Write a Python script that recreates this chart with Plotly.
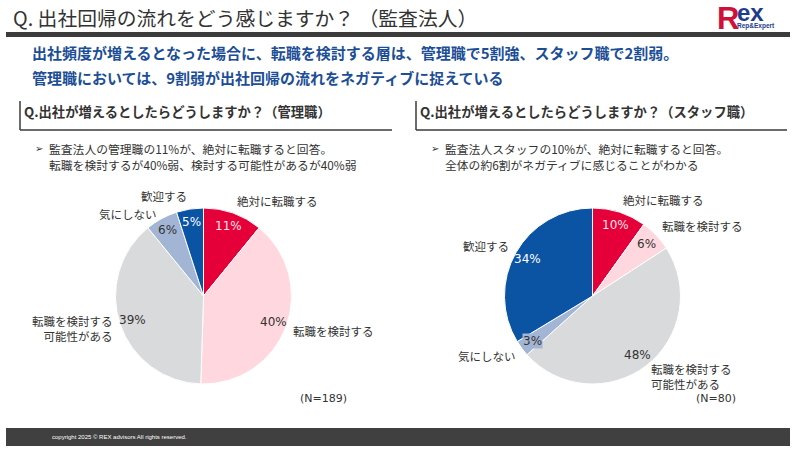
import numpy as np
import plotly.graph_objects as go

# %% data
categories = ["絶対に転職する", "転職を検討する", "転職を検討する<br>可能性がある", "気にしない", "歓迎する"]
manager_share = [11, 40, 39, 6, 5]
staff_share = [10, 6, 48, 3, 34]
n_manager = 189
n_staff = 80

title_text = "Q. 出社回帰の流れをどう感じますか？ （監査法人）"
lead_lines = [
    "出社頻度が増えるとなった場合に、転職を検討する層は、管理職で5割強、スタッフ職で2割弱。",
    "管理職においては、9割弱が出社回帰の流れをネガティブに捉えている",
]
manager_head = "Q.出社が増えるとしたらどうしますか？（管理職）"
staff_head = "Q.出社が増えるとしたらどうしますか？（スタッフ職）"
manager_notes = ["監査法人の管理職の11%が、絶対に転職すると回答。",
                 "転職を検討するが40%弱、検討する可能性があるが40%弱"]
staff_notes = ["監査法人スタッフの10%が、絶対に転職すると回答。",
               "全体の約6割がネガティブに感じることがわかる"]

# %% style
W, H = 800, 450
JP = "Noto Sans CJK JP, sans-serif"
slice_colors = ["#E5003A", "#FFD7DE", "#D9DADC", "#A3B5D5", "#0B53A3"]
pct_colors = ["#FDE3E8", "#333333", "#333333", "#333333", "#FFFFFF"]
TXT = "#333333"
BLUE = "#1C4E96"
R = 88
LABEL_GAP = 18


def X(px):
    return px / W


def Y(py):
    return 1 - py / H


def txt(x, y, s, size=12, color=TXT, anchor="left", family=JP, **kw):
    return dict(x=X(x), y=Y(y), xref="paper", yref="paper", text=s, showarrow=False,
                xanchor=anchor, yanchor="middle", font=dict(size=size, color=color, family=family), **kw)


def pie_block(values, cx, cy):
    """pie trace + percent / category annotations for one panel"""
    trace = go.Pie(
        values=values, labels=categories, sort=False, direction="clockwise",
        marker=dict(colors=slice_colors, line=dict(color="white", width=1)),
        textinfo="none", hoverinfo="label+percent", showlegend=False,
        domain=dict(x=[X(cx - R), X(cx + R)], y=[Y(cy + R), Y(cy - R)]),
    )
    v = np.array(values, dtype=float)
    ends = np.cumsum(v) / v.sum() * 2 * np.pi
    mids = ends - v / v.sum() * np.pi
    notes = []
    labels = []
    for i, a in enumerate(mids):
        s, c = np.sin(a), np.cos(a)
        extra = dict(bgcolor=slice_colors[i]) if values[i] < 4 else {}
        notes.append(txt(cx + 0.85 * R * s, cy - 0.85 * R * c, f"{values[i]}%", size=12,
                         color=pct_colors[i], anchor="center", family="DejaVu Sans, sans-serif",
                         borderpad=0, **extra))
        labels.append(["left" if s > 0 else "right", cx + 1.06 * R * s, cy - 1.15 * R * c, i])

    # push apart labels on the same side that would collide
    for side in ("left", "right"):
        grp = sorted([l for l in labels if l[0] == side], key=lambda l: l[2])
        for a, b in zip(grp, grp[1:]):
            if b[2] - a[2] < LABEL_GAP:
                b[2] = a[2] + LABEL_GAP
    for anc, x, y, i in labels:
        notes.append(txt(x, y, categories[i], size=11.5, anchor=anc, align=anc))
    return trace, notes


fig = go.Figure()
ann = []

t1, a1 = pie_block(manager_share, 203.5, 296)
t2, a2 = pie_block(staff_share, 592.5, 296)
fig.add_trace(t1)
fig.add_trace(t2)
ann += a1 + a2

# header
ann.append(txt(11, 17, title_text, size=19.8, color="#333333"))
ann.append(txt(30, 53, "<b>" + lead_lines[0] + "</b>", size=15, color=BLUE))
ann.append(txt(30, 77, "<b>" + lead_lines[1] + "</b>", size=15, color=BLUE))

# logo
ann.append(txt(715, 18, "<b>R</b>", size=31, color="#CF1038", family="Liberation Sans, sans-serif"))
ann.append(txt(735, 13, "<b>ex</b>", size=24, color="#1E3C8C", family="Liberation Sans, sans-serif"))
ann.append(txt(756, 26, "<b>Rep&Expert</b>", size=6.5, color="#1E3C8C", anchor="center",
               family="Liberation Sans, sans-serif"))

# panel headings and notes
for x0, head, notes in [(20, manager_head, manager_notes), (416, staff_head, staff_notes)]:
    ann.append(txt(x0 + 2, 111, "<b>" + head + "</b>", size=13.3))
    ann.append(txt(x0 + 13, 148, "➢", size=10, family="DejaVu Sans, sans-serif"))
    ann.append(txt(x0 + 27, 148, notes[0], size=11.8))
    ann.append(txt(x0 + 27, 164, notes[1], size=11.8))

ann.append(txt(323, 398, f"(N={n_manager})", size=11, anchor="center", family="DejaVu Sans, sans-serif"))
ann.append(txt(716, 398, f"(N={n_staff})", size=11, anchor="center", family="DejaVu Sans, sans-serif"))
ann.append(txt(50, 437, "copyright 2025 © REX advisors All rights reserved.", size=6, color="#FFFFFF",
               family="Liberation Sans Narrow, Liberation Sans, sans-serif"))

line = dict(color="#3A3A3A", width=1.5)
shapes = [
    dict(type="rect", xref="paper", yref="paper", x0=X(6), x1=X(790), y0=Y(37), y1=Y(32),
         fillcolor="#3C3C3C", line=dict(width=0)),
    dict(type="rect", xref="paper", yref="paper", x0=X(6), x1=X(790), y0=Y(446), y1=Y(428),
         fillcolor="#404040", line=dict(width=0)),
]
for x0, x1 in [(20, 392), (416, 787)]:
    shapes.append(dict(type="line", xref="paper", yref="paper", x0=X(x0), x1=X(x0), y0=Y(101), y1=Y(130), line=line))
    shapes.append(dict(type="line", xref="paper", yref="paper", x0=X(x0), x1=X(x1), y0=Y(130), y1=Y(130), line=line))

fig.update_layout(
    width=W, height=H, margin=dict(l=0, r=0, t=0, b=0),
    paper_bgcolor="white", plot_bgcolor="white",
    annotations=ann, shapes=shapes, font=dict(family=JP, color=TXT),
)

fig.write_html("out.html", config={"displayModeBar": False},
               post_script="document.body.style.margin='0';")
